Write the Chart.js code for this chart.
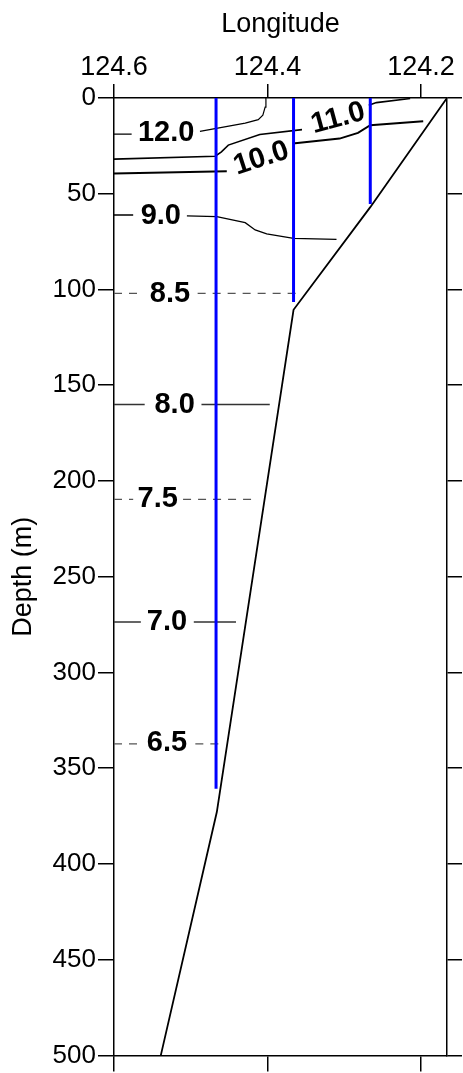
<!DOCTYPE html>
<html>
<head>
<meta charset="utf-8">
<script src="https://cdn.jsdelivr.net/npm/chart.js@4.4.1/dist/chart.umd.min.js"></script>
<style>
  html, body { margin: 0; padding: 0; background: #fff; }
  #box { width: 463px; height: 1073px; }
</style>
</head>
<body>
<div id="box"><canvas id="chartSeccion" width="463" height="1073"></canvas></div>
<script>
// EJES
const lonTicks = [124.6, 124.4, 124.2];
const depthTicks = [0, 50, 100, 150, 200, 250, 300, 350, 400, 450, 500];
const lonMin = 124.166;
const lonMax = 124.6;

// ESTACIONES (líneas azules)
const stationLon = [124.467, 124.366, 124.266];
const stationBottom = [360.8, 106.5, 55.4];

// FONDO
const bottomLon = [124.166, 124.266, 124.366, 124.466, 124.539];
const bottomDepth = [0, 57.0, 110.6, 372.9, 500];

// ISOTERMAS (null = hueco para la etiqueta)
const c120Lon = [124.600, 124.577, null, 124.488, 124.429, 124.412, 124.406, 124.403, 124.402];
const c120Depth = [18.9, 18.9, null, 17.4, 13.1, 11.3, 9.0, 4.8, 0];

const c110Lon = [124.600, 124.468, 124.460, 124.451, 124.410, 124.355, null, 124.268, 124.258, 124.214];
const c110Depth = [31.9, 30.4, 28.1, 24.6, 19.1, 16.5, null, 3.8, 2.4, 0.3];

const c100Lon = [124.600, 124.453, null, 124.367, 124.306, 124.282, 124.266, 124.197];
const c100Depth = [39.4, 38.2, null, 23.8, 21.2, 18.2, 14.2, 12.1];

const c90Lon = [124.600, 124.575, null, 124.505, 124.466, 124.429, 124.416, 124.401, 124.366, 124.310];
const c90Depth = [61.1, 61.1, null, 61.6, 62.0, 65.1, 68.9, 71.0, 73.3, 73.8];

const c85Lon = [124.600, 124.562, null, 124.491, 124.360];
const c85Depth = [102.0, 102.0, null, 102.0, 102.0];

const c80Lon = [124.600, 124.560, null, 124.486, 124.397];
const c80Depth = [160.1, 160.1, null, 160.1, 160.1];

const c75Lon = [124.600, 124.575, null, 124.510, 124.418];
const c75Depth = [209.6, 209.6, null, 209.6, 209.6];

const c70Lon = [124.600, 124.565, null, 124.496, 124.441];
const c70Depth = [273.6, 273.6, null, 273.6, 273.6];

const c65Lon = [124.600, 124.564, null, 124.494, 124.463];
const c65Depth = [337.3, 337.3, null, 337.3, 337.3];

// ETIQUETAS DE ISOTERMAS
const labelText = ["12.0", "11.0", "10.0", "9.0", "8.5", "8.0", "7.5", "7.0", "6.5"];
const labelLon = [124.532, 124.308, 124.408, 124.539, 124.527, 124.521, 124.543, 124.531, 124.531];
const labelDepth = [18.1, 10.7, 31.6, 61.5, 102.1, 160.3, 209.5, 273.7, 336.8];
const labelAngle = [0, -15, -18, 0, 0, 0, 0, 0, 0];

const FUENTE = "'Liberation Sans', Arial, sans-serif";

function toPoints(lons, depths) {
  return lons.map((lon, i) => {
    if (lon === null) return { x: lons[i - 1], y: null };
    return { x: lon, y: depths[i] };
  });
}

function stationPoints() {
  let pts = [];
  stationLon.forEach((lon, i) => {
    pts.push({ x: lon, y: 0 });
    pts.push({ x: lon, y: stationBottom[i] });
    pts.push({ x: lon, y: null });
  });
  return pts;
}

function linea(data, color, width, dash) {
  return {
    data: data,
    showLine: true,
    borderColor: color,
    borderWidth: width,
    borderDash: dash || [],
    pointRadius: 0,
    spanGaps: false,
    tension: 0,
  };
}

// Etiquetas de las isotermas, colocadas con las escalas
const etiquetas = {
  id: "etiquetas",
  afterDatasetsDraw(chart) {
    const ctx = chart.ctx;
    const sx = chart.scales.x;
    const sy = chart.scales.y;
    ctx.save();
    ctx.fillStyle = "#000";
    ctx.font = "bold 29px " + FUENTE;
    ctx.textAlign = "center";
    ctx.textBaseline = "middle";
    labelText.forEach((t, i) => {
      const px = sx.getPixelForValue(labelLon[i]);
      const py = sy.getPixelForValue(labelDepth[i]);
      ctx.save();
      ctx.translate(px, py);
      ctx.rotate((labelAngle[i] * Math.PI) / 180);
      ctx.fillText(t, 0, 0);
      ctx.restore();
    });
    ctx.restore();
  },
};

function ejeX(pos, ancho, conEtiquetas) {
  return {
    type: "linear",
    position: pos,
    reverse: true,
    min: lonMin,
    max: lonMax,
    afterBuildTicks: (s) => {
      s.ticks = lonTicks.map((v) => ({ value: v }));
    },
    afterFit: (s) => {
      s.height = ancho;
    },
    ticks: {
      display: conEtiquetas,
      color: "#000",
      padding: 0,
      font: { family: FUENTE, size: 27 },
      callback: (v) => Number(v).toFixed(1),
    },
    grid: {
      drawOnChartArea: false,
      drawTicks: true,
      tickLength: pos === "top" ? 14 : 16,
      color: "#000",
      lineWidth: 1.5,
    },
    border: { display: true, color: "#000", width: 1.5 },
    title: {
      display: conEtiquetas,
      text: "Longitude",
      color: "#000",
      font: { family: FUENTE, size: 27 },
      padding: { top: 8, bottom: 0 },
    },
  };
}

function ejeY(pos, ancho, conEtiquetas) {
  return {
    type: "linear",
    position: pos,
    reverse: true,
    min: 0,
    max: 500,
    afterBuildTicks: (s) => {
      s.ticks = depthTicks.map((v) => ({ value: v }));
    },
    afterFit: (s) => {
      s.width = ancho;
    },
    ticks: {
      display: conEtiquetas,
      color: "#000",
      padding: 2,
      font: { family: FUENTE, size: 26 },
    },
    grid: {
      drawOnChartArea: false,
      drawTicks: true,
      tickLength: pos === "left" ? 16 : 15,
      color: "#000",
      lineWidth: 1.5,
    },
    border: { display: true, color: "#000", width: 1.5 },
    title: {
      display: conEtiquetas,
      text: "Depth (m)",
      color: "#000",
      font: { family: FUENTE, size: 27 },
      padding: { top: 7, bottom: 0 },
    },
  };
}

document.addEventListener("DOMContentLoaded", function () {
  const ctx = document.getElementById("chartSeccion").getContext("2d");

  new Chart(ctx, {
    type: "scatter",
    data: {
      datasets: [
        linea(stationPoints(), "#0000ff", 3),
        linea(toPoints(bottomLon, bottomDepth), "#000", 1.8),
        linea(toPoints(c120Lon, c120Depth), "#000", 1.2),
        linea(toPoints(c110Lon, c110Depth), "#000", 1.6),
        linea(toPoints(c100Lon, c100Depth), "#000", 2),
        linea(toPoints(c90Lon, c90Depth), "#000", 1.3),
        linea(toPoints(c85Lon, c85Depth), "#555", 1.3, [8, 7]),
        linea(toPoints(c80Lon, c80Depth), "#333", 1.5),
        linea(toPoints(c75Lon, c75Depth), "#555", 1.3, [8, 7]),
        linea(toPoints(c70Lon, c70Depth), "#333", 1.5),
        linea(toPoints(c65Lon, c65Depth), "#555", 1.3, [8, 7]),
      ],
    },
    options: {
      responsive: false,
      animation: false,
      layout: { padding: 0 },
      plugins: {
        legend: { display: false },
        tooltip: { enabled: false },
      },
      scales: {
        x: ejeX("top", 98, true),
        x2: ejeX("bottom", 16, false),
        y: ejeY("left", 114, true),
        y2: ejeY("right", 16, false),
      },
    },
    plugins: [etiquetas],
  });
});
</script>
</body>
</html>
